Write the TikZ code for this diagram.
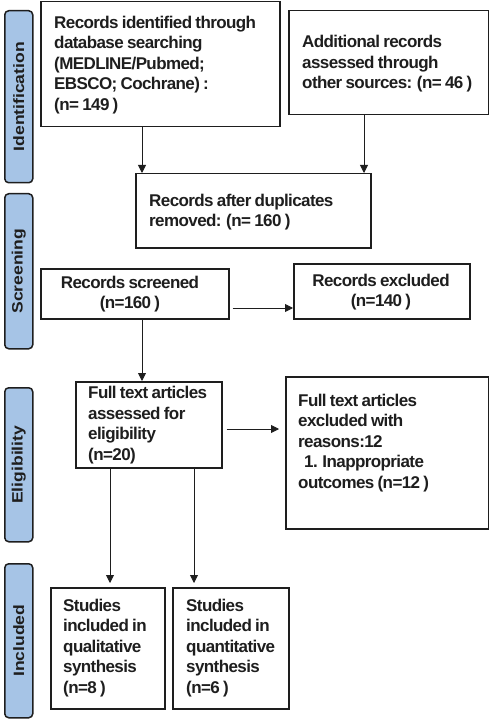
\documentclass[tikz,border=0pt]{standalone}
\usepackage{fontspec}
\setmainfont{Liberation Sans}
\newfontfamily\boxfont[LetterSpace=-3.5,WordSpace=0.8]{Liberation Sans}
\usetikzlibrary{arrows.meta}
\definecolor{sideblue}{RGB}{166,196,230}
\definecolor{ink}{RGB}{30,30,30}
\begin{document}
\begin{tikzpicture}[x=1pt,y=-1pt,
  box/.style={draw=ink,line width=1.5pt,inner sep=0pt,anchor=north west},
  txt/.style={font=\boxfont\fontsize{17}{20.5}\selectfont\bfseries,align=left,inner sep=0pt,anchor=west,text=ink},
  ctxt/.style={font=\boxfont\fontsize{17}{20.5}\selectfont\bfseries,align=center,inner sep=0pt,text=ink},
  side/.style={draw=ink,line width=1.5pt,fill=sideblue,rounded corners=4pt,inner sep=0pt,anchor=north west,minimum width=28pt},
  stxt/.style={font=\fontsize{15}{15}\selectfont\bfseries,rotate=90,inner sep=0pt,text=ink},
  arr/.style={draw=ink,line width=0.9pt,-{Triangle[length=8pt,width=8pt]}}]
\useasboundingbox (0,0) rectangle (489,719);
% side labels
\node[side,minimum height=172pt] (S1) at (4,10) {};
\node[side,minimum height=155pt] (S2) at (4,193) {};
\node[side,minimum height=154pt] (S3) at (4,387) {};
\node[side,minimum height=154pt] (S4) at (4,563) {};
\node[stxt] (S1t) at (S1) {\scalebox{1.17}[1]{Identification}};
\node[stxt] (S2t) at (S2) {\scalebox{1.17}[1]{Screening}};
\node[stxt] (S3t) at (S3) {\scalebox{1.17}[1]{Eligibility}};
\node[stxt] (S4t) at (S4) {\scalebox{1.17}[1]{Included}};
% boxes
\node[box,minimum width=239pt,minimum height=125pt] (A) at (40,1) {};
\node[box,minimum width=200pt,minimum height=104pt] (B) at (288,10) {};
\node[box,minimum width=235pt,minimum height=74pt] (C) at (135,173) {};
\node[box,minimum width=188pt,minimum height=50pt] (D) at (40,268) {};
\node[box,minimum width=176pt,minimum height=55pt] (E) at (293,263) {};
\node[box,minimum width=146pt,minimum height=86pt] (F) at (75,381) {};
\node[box,minimum width=203pt,minimum height=152pt] (G) at (285,376) {};
\node[box,minimum width=114pt,minimum height=121pt] (H) at (50,587) {};
\node[box,minimum width=116pt,minimum height=121pt] (I) at (172,587) {};
% texts
\node[txt] (At) at (54,65) {Records identified through\\database searching\\(MEDLINE/Pubmed;\\EBSCO; Cochrane) :\\(n= 149 )};
\node[txt] (Bt) at (302,64) {Additional records\\assessed through\\other sources: (n= 46 )};
\node[txt] (Ct) at (149,212) {Records after duplicates\\removed: (n= 160 )};
\node[ctxt] (Dt) at (130,294) {Records screened\\(n=160 )};
\node[ctxt] (Et) at (381,292) {Records excluded\\(n=140 )};
\node[txt] (Ft) at (88,425) {Full text articles\\assessed for\\eligibility\\(n=20)};
\node[txt] (Gt) at (298,443) {Full text articles\\excluded with\\reasons:12\\\hspace*{6pt}1. Inappropriate\\outcomes (n=12 )};
\node[txt] (Ht) at (63,648) {Studies\\included in\\qualitative\\synthesis\\(n=8 )};
\node[txt] (It) at (186,648) {Studies\\included in\\quantitative\\synthesis\\(n=6 )};
% connectors
\draw[arr] (A.south -| 142,0) -- (C.north -| 142,0);
\draw[arr] (B.south -| 364,0) -- (C.north -| 364,0);
\draw[arr,shorten <=3pt] (D.east |- 0,308) -- (E.west |- 0,308);
\draw[arr] (D.south -| 142,0) -- (F.north -| 142,0);
\draw[arr,shorten <=4pt,shorten >=6pt] (F.east |- 0,429) -- (G.west |- 0,429);
\draw[arr,shorten >=4pt] (F.south -| 110,0) -- (H.north -| 110,0);
\draw[arr,shorten >=4pt] (F.south -| 194,0) -- (I.north -| 194,0);
\end{tikzpicture}
\end{document}
